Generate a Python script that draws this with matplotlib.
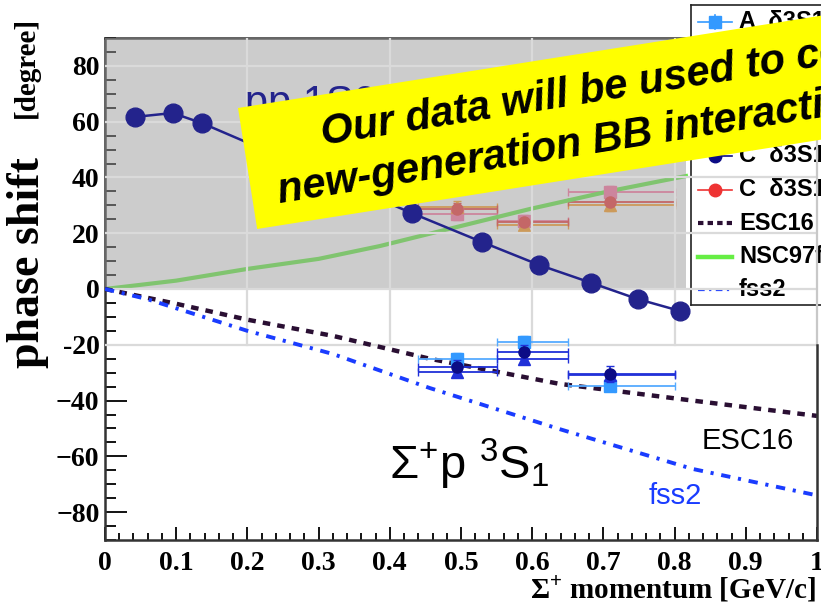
import numpy as np
import matplotlib.pyplot as plt
from matplotlib.patches import Rectangle, Polygon
from matplotlib.transforms import Affine2D

plt.rcParams['mathtext.fontset'] = 'custom'
plt.rcParams['mathtext.rm'] = 'Liberation Sans'
plt.rcParams['mathtext.default'] = 'rm'

W, H = 821, 608

# momentum bins of the measurement (GeV/c)
bin_lo = np.array([0.44, 0.55, 0.65])
bin_hi = np.array([0.55, 0.65, 0.80])
p_mean = np.array([0.495, 0.589, 0.709])

# delta(3S1) < 0 solutions
a_neg = np.array([-25.0, -19.0, -34.7])
a_neg_err = np.array([2.0, 2.0, 2.0])
b_neg = np.array([-29.7, -25.0, -31.0])
b_neg_err = np.array([1.5, 1.5, 1.5])
c_neg = np.array([-28.0, -22.6, -30.5])
c_neg_err = np.array([2.5, 2.5, 3.0])

# delta(3S1) > 0 solutions
a_pos = np.array([26.9, 24.5, 34.8])
b_pos = np.array([29.5, 23.0, 30.0])
c_pos = np.array([28.7, 24.0, 31.3])
pos_err = np.array([2.0, 2.0, 2.0])

# theory curves
esc16_x = [0, 0.1, 0.2, 0.32, 0.456, 0.638, 0.825, 1.0]
esc16_y = [0, -5.3, -11.0, -16.8, -25.0, -34.0, -40.0, -45.5]
fss2_x = [0, 0.059, 0.2, 0.32, 0.456, 0.638, 0.825, 1.0]
fss2_y = [0, -3.6, -15.0, -23.3, -35.5, -50.2, -64.5, -74.0]
nsc_x = [0, 0.1, 0.2, 0.3, 0.386, 0.5, 0.597, 0.709, 0.816]
nsc_y = [0, 3.0, 7.2, 10.8, 15.4, 22.6, 28.7, 35.1, 40.5]

# pp 1S0 phase shifts
pp_x = [0.042, 0.095, 0.136, 0.431, 0.529, 0.610, 0.683, 0.748, 0.808]
pp_y = [61.7, 63.1, 59.5, 27.2, 16.9, 8.6, 2.2, -3.6, -7.9]

ytick_vals = [-80, -60, -40, -20, 0, 20, 40, 60, 80]
ytick_text = ['\u221280', '\u221260', '\u221240', '-20', '0', '20', '40', '60', '80']
xtick_vals = [0, 0.1, 0.2, 0.3, 0.4, 0.5, 0.6, 0.7, 0.8, 0.9, 1.0]
xtick_text = ['0', '0.1', '0.2', '0.3', '0.4', '0.5', '0.6', '0.7', '0.8', '0.9', '1']

leg_labels = ['A  \u03b43S1<0', 'A  \u03b43S1>0', 'B  \u03b43S1<0', 'B  \u03b43S1>0',
              'C  \u03b43S1<0', 'C  \u03b43S1>0', 'ESC16', 'NSC97f', 'fss2']

c_lightblue = '#3399ff'
c_navy = '#0c0c86'
c_blue = '#2030d8'
c_red = '#ee3333'
c_pink = '#ff6fa0'
c_orange = '#ff9a1a'
c_esc = '#2a0f33'
c_nsc = '#66ee44'
c_fss = '#1a3cff'
c_grid = '#dadada'

fig = plt.figure(figsize=(W / 100, H / 100), dpi=100, facecolor='white')
px = Affine2D().scale(1 / W, -1 / H).translate(0, 1) + fig.transFigure

# legend box (partly outside the canvas)
lg = fig.add_axes([691 / W, 1 - 305 / H, 169 / W, 300 / H])
lg.set_zorder(1)
lg.set_xlim(0, 169)
lg.set_ylim(300, 0)
lg.set_xticks([])
lg.set_yticks([])
for s in lg.spines.values():
    s.set_linewidth(1.2)
    s.set_color('#222222')

leg_styles = [
    dict(color=c_lightblue, marker='s', ms=8, lw=1.2, ls='-'),
    dict(color=c_pink, marker='s', ms=8, lw=1.2, ls='-'),
    dict(color=c_blue, marker='^', ms=8, lw=1.2, ls='-'),
    dict(color=c_orange, marker='^', ms=8, lw=1.2, ls='-'),
    dict(color=c_navy, marker='o', ms=9, lw=1.2, ls='-'),
    dict(color=c_red, marker='o', ms=9, lw=1.2, ls='-'),
    dict(color=c_esc, marker='', lw=3.0, ls=(0, (1.3, 1.0))),
    dict(color=c_nsc, marker='', lw=3.2, ls='-'),
    dict(color=c_fss, marker='', lw=1.6, ls=(0, (3, 2, 1, 2))),
]
for i, (lab, st) in enumerate(zip(leg_labels, leg_styles)):
    yy = 17 + 33.5 * i
    lg.plot([7, 41], [yy, yy], color=st['color'], lw=st['lw'], ls=st['ls'])
    if st['marker']:
        lg.plot([24], [yy], marker=st['marker'], ms=st['ms'], color=st['color'])
    if i == 0:
        lg.plot([24, 24], [yy - 7, yy + 7], color=st['color'], lw=1.2)
    lg.text(48, yy, lab, fontsize=17, fontweight='bold', family='Liberation Sans',
            va='center', ha='left')

# main frame
ax = fig.add_axes([105 / W, 1 - 540 / H, 712 / W, 502 / H])
ax.set_zorder(2)
ax.set_facecolor('none')
ax.set_xlim(0, 1)
ax.set_ylim(-90, 90)

# positive solutions, under the shaded pp panel
for yv, col, mk in [(a_pos, c_pink, 's'), (b_pos, c_orange, '^'), (c_pos, c_red, 'o')]:
    ax.errorbar(p_mean, yv, xerr=[p_mean - bin_lo, bin_hi - p_mean], yerr=pos_err,
                fmt=mk, color=col, ms=8, elinewidth=1.3, capsize=3, zorder=2)
ax.plot(nsc_x, nsc_y, color=c_nsc, lw=3.0, zorder=2)

ax.add_patch(Rectangle((0, 0), 0.816, 90, facecolor='#9b9b9b', alpha=0.5,
                       edgecolor='none', zorder=3))

# grid of the pp panel
for yg in [80, 60, 40, 20, 0, -20]:
    ax.plot([0, 1], [yg, yg], color=c_grid, lw=1.6, zorder=4)
for xg in [0.2, 0.4, 0.6, 0.8]:
    ax.plot([xg, xg], [-20, 90], color=c_grid, lw=1.6, zorder=4)
ax.plot([1, 1], [-20, 90], color='#c8c8c8', lw=1.6, zorder=4, clip_on=False)
ax.plot([1, 1], [-90, -20], color='#333333', lw=1.8, zorder=6, clip_on=False)

ax.plot(pp_x, pp_y, color='#23238c', lw=1.8, marker='o', ms=13.5, zorder=5)
ax.text(0.197, 62.5, 'pp 1S0', fontsize=30, color='#23238c', family='Liberation Sans',
        zorder=5)

# theory
ax.plot(esc16_x, esc16_y, color=c_esc, lw=3.2, ls=(0, (1.7, 1.6)), zorder=5)
ax.plot(fss2_x, fss2_y, color=c_fss, lw=2.8, ls=(0, (2.4, 2.0, 0.8, 2.0)), zorder=5)

# negative solutions
ax.errorbar(p_mean, a_neg, xerr=[p_mean - bin_lo, bin_hi - p_mean], yerr=a_neg_err,
            fmt='s', color=c_lightblue, ecolor='#55aaff', ms=8, elinewidth=1.3,
            capsize=3, zorder=6)
ax.errorbar(p_mean, b_neg, xerr=[p_mean - bin_lo, bin_hi - p_mean], yerr=b_neg_err,
            fmt='^', color=c_blue, ecolor=c_blue, ms=8, elinewidth=1.3,
            capsize=3, zorder=6)
ax.errorbar(p_mean, c_neg, xerr=[p_mean - bin_lo, bin_hi - p_mean], yerr=c_neg_err,
            fmt='o', color=c_navy, ecolor=c_blue, ms=8, elinewidth=1.3,
            capsize=3, zorder=7)

ax.text(0.838, -57.4, 'ESC16', fontsize=21, family='Liberation Sans', zorder=6)
ax.text(0.764, -77.1, 'fss2', fontsize=21, family='Liberation Sans', color=c_fss, zorder=6)
ax.text(0.399, -68.1, '\u03a3$^{+}$p $^{3}$S$_{1}$', fontsize=34,
        family='Liberation Sans', zorder=6)

ax.set_xticks(xtick_vals)
ax.set_xticklabels(xtick_text)
ax.set_xticks(np.arange(0, 1.001, 0.02), minor=True)
ax.set_yticks(ytick_vals)
ax.set_yticklabels(ytick_text)
ax.set_yticks(np.arange(-90, 90.1, 5), minor=True)
ax.tick_params(axis='y', which='major', direction='in', length=15.8, width=1.3, pad=4)
ax.tick_params(axis='y', which='minor', direction='in', length=8, width=1.3)
ax.tick_params(axis='x', which='major', direction='in', length=9.4, width=1.3, pad=8)
ax.tick_params(axis='x', which='minor', direction='in', length=5, width=1.3)
for lab in ax.get_xticklabels() + ax.get_yticklabels():
    lab.set_family('Liberation Serif')
    lab.set_fontweight('bold')
    lab.set_fontsize(20)
for side in ['left', 'bottom', 'top']:
    ax.spines[side].set_linewidth(1.8)
    ax.spines[side].set_color('#333333')
ax.spines['right'].set_visible(False)

fig.text(28 / W, 1 - 263 / H, 'phase shift', rotation=90, fontsize=33, fontweight='bold',
         family='Liberation Serif', ha='center', va='center')
fig.text(26 / W, 1 - 67 / H, '[degree]', rotation=90, fontsize=21, fontweight='bold',
         family='Liberation Serif', ha='center', va='center')
fig.text(816 / W, 1 - 599 / H, '\u03a3$^{+}$ momentum [GeV/c]', fontsize=21,
         fontweight='bold', family='Liberation Serif', ha='right', va='baseline')

# yellow banner
th = np.deg2rad(9)
along = np.array([np.cos(th), -np.sin(th)])
across = np.array([np.sin(th), np.cos(th)])
tl = np.array([238.0, 108.0])
corners = [tl, tl + 122.5 * across, tl + 122.5 * across + 720 * along, tl + 720 * along]
fig.patches.append(Polygon(corners, closed=True, transform=px, facecolor='#ffff00',
                           edgecolor='none', zorder=10))
fig.text(323, 145, 'Our data will be used to construct', transform=px, rotation=9,
         rotation_mode='anchor', ha='left', va='baseline', fontsize=30,
         fontweight='bold', style='italic', family='Liberation Sans', zorder=11)
fig.text(280, 203, 'new-generation BB interaction models', transform=px, rotation=9,
         rotation_mode='anchor', ha='left', va='baseline', fontsize=30,
         fontweight='bold', style='italic', family='Liberation Sans', zorder=11)

fig.savefig('out.png', dpi=100)
